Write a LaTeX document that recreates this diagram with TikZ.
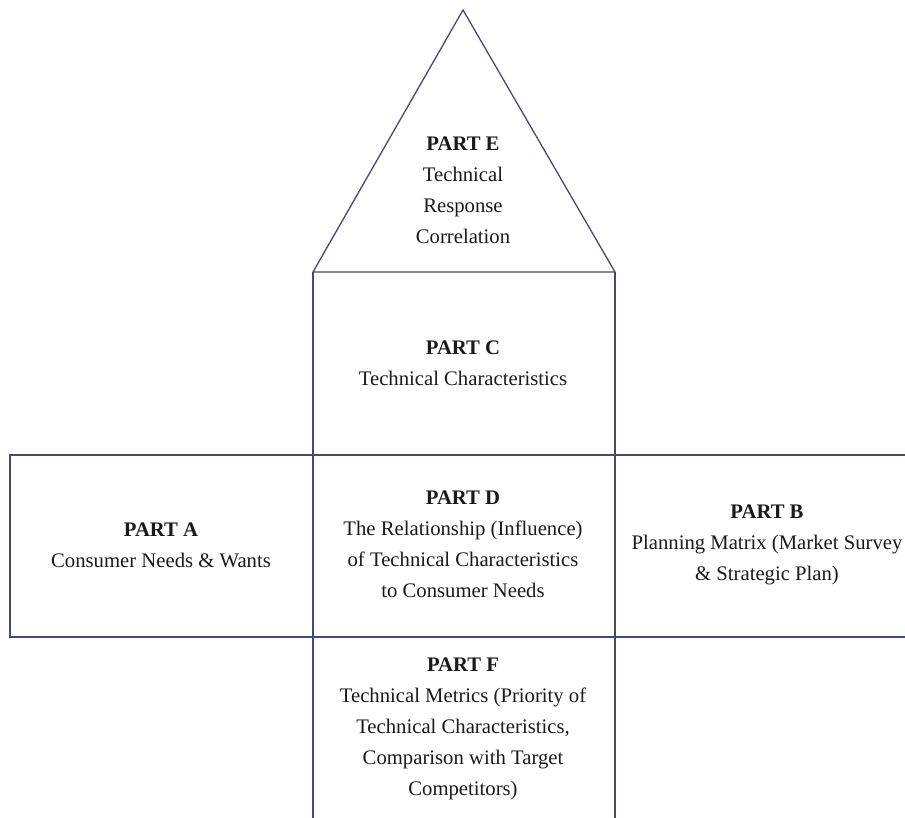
\documentclass[tikz,border=0pt]{standalone}
\usepackage{fontspec}
\setmainfont{Liberation Serif}
\definecolor{edge}{HTML}{434B72}
\definecolor{txt}{HTML}{1A1A1A}
\begin{document}
\begin{tikzpicture}[x=1pt,y=-1pt,
  frame/.style={draw=edge,line width=1.3pt},
  label/.style={align=center,inner sep=0pt,text=txt,font=\fontsize{20.7}{31}\selectfont}]
\useasboundingbox (0,0) rectangle (905,818);
% corner coordinates
\coordinate (apex) at (463,10);
\coordinate (cl) at (313,272);
\coordinate (cr) at (615,272);
\coordinate (ml) at (313,455);
\coordinate (mr) at (615,455);
\coordinate (bl) at (313,637);
\coordinate (br) at (615,637);
\coordinate (al) at (10,455);
\coordinate (abl) at (10,637);
\coordinate (rt) at (905,455);
\coordinate (rb) at (905,637);
\coordinate (fl) at (313,818);
\coordinate (fr) at (615,818);
% frames
\draw[frame] (cl) -- (apex) -- (cr) -- cycle;
\draw[frame] (cl) -- (fl);
\draw[frame] (cr) -- (fr);
\draw[frame] (rt) -- (al) -- (abl) -- (rb);
% texts
\node[label] (e) at (463,190) {\textbf{PART E}\\Technical\\Response\\Correlation};
\node[label] (c) at (463,363) {\textbf{PART C}\\Technical Characteristics};
\node[label] (a) at (161,545) {\textbf{PART A}\\Consumer Needs \& Wants};
\node[label] (d) at (463,544) {\textbf{PART D}\\The Relationship (Influence)\\of Technical Characteristics\\to Consumer Needs};
\node[label] (b) at (767,545) {\textbf{PART B}\\Planning Matrix (Market Survey\\\& Strategic Plan)};
\node[label] (f) at (463,729) {\textbf{PART F}\\Technical Metrics (Priority of\\Technical Characteristics,\\Comparison with Target\\Competitors)};
\end{tikzpicture}
\end{document}
